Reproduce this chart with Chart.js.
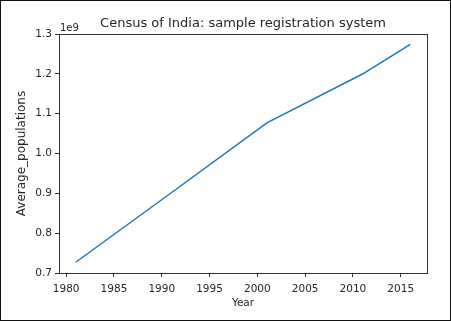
<!DOCTYPE html>
<html>
<head>
<meta charset="utf-8">
<script src="https://cdn.jsdelivr.net/npm/chart.js@4/dist/chart.umd.min.js"></script>
<style>
  html, body { margin: 0; padding: 0; background: #fff; }
  canvas { display: block; }
</style>
</head>
<body>
<canvas id="chart" width="451" height="321"></canvas>
<script>
// ===== DATA =====
var years = [1981, 1991, 2001, 2011, 2016];
var populations = [0.718e9, 0.896e9, 1.075e9, 1.200e9, 1.276e9];
var xTickStep = 5;
var yTickStep = 0.1e9;

var textColor = '#262626';
var tickFont = { family: 'DejaVu Sans', size: 10.5 };

// title, offset text and frame, drawn like matplotlib does
var decorations = {
    id: 'decorations',
    beforeDraw: function(chart) {
        var ctx = chart.ctx;
        ctx.save();
        ctx.fillStyle = '#fff';
        ctx.fillRect(0, 0, chart.width, chart.height);
        ctx.restore();
    },
    afterDraw: function(chart) {
        var ctx = chart.ctx;
        var a = chart.chartArea;
        ctx.save();
        // axes box
        ctx.strokeStyle = '#333';
        ctx.lineWidth = 1;
        ctx.strokeRect(Math.round(a.left) + 0.5, Math.round(a.top) + 0.5,
            Math.round(a.right - a.left), Math.round(a.bottom - a.top));
        // title
        ctx.fillStyle = textColor;
        ctx.font = '13px "DejaVu Sans"';
        ctx.textAlign = 'center';
        ctx.textBaseline = 'alphabetic';
        ctx.fillText('Census of India: sample registration system', (a.left + a.right) / 2, a.top - 7);
        // 1e9 offset text
        ctx.font = '10px "DejaVu Sans"';
        ctx.textAlign = 'left';
        ctx.fillText('1e9', a.left + 1, a.top - 3);
        // outer frame
        ctx.strokeStyle = '#111';
        ctx.strokeRect(0.5, 0.5, chart.width - 1, chart.height - 1);
        ctx.restore();
    }
};

new Chart(document.getElementById('chart'), {
    type: 'line',
    data: {
        datasets: [{
            data: years.map(function(y, i) { return { x: y, y: populations[i] }; }),
            borderColor: '#1f77b4',
            borderWidth: 1.5,
            pointRadius: 0,
            tension: 0,
            fill: false
        }]
    },
    options: {
        responsive: false,
        animation: false,
        layout: { padding: { top: 34, right: 24, left: 0, bottom: 0 } },
        plugins: {
            legend: { display: false },
            title: { display: false },
            tooltip: { enabled: false }
        },
        scales: {
            x: {
                type: 'linear',
                min: 1979.25,
                max: 2017.75,
                afterFit: function(s) { s.height = 48; },
                grid: { display: true, drawOnChartArea: false, drawTicks: true, tickLength: 4, color: '#333' },
                border: { display: true, color: '#333' },
                ticks: {
                    stepSize: xTickStep,
                    includeBounds: false,
                    autoSkip: false,
                    maxRotation: 0,
                    padding: 6,
                    color: textColor,
                    font: tickFont,
                    callback: function(v) { return String(v); }
                },
                title: { display: true, text: 'Year', color: textColor, font: tickFont, padding: { top: 0, bottom: 11 } }
            },
            y: {
                min: 0.6905e9,
                max: 1.3025e9,
                afterFit: function(s) { s.width = 59; },
                grid: { display: true, drawOnChartArea: false, drawTicks: true, tickLength: 4, color: '#333' },
                border: { display: true, color: '#333' },
                ticks: {
                    stepSize: yTickStep,
                    includeBounds: false,
                    autoSkip: false,
                    padding: 3,
                    color: textColor,
                    font: tickFont,
                    callback: function(v) { return (v / 1e9).toFixed(1); }
                },
                title: { display: true, text: 'Average_populations', color: textColor, font: { family: 'DejaVu Sans', size: 12 }, padding: { top: 15, bottom: 0 } }
            }
        }
    },
    plugins: [decorations]
});
</script>
</body>
</html>
